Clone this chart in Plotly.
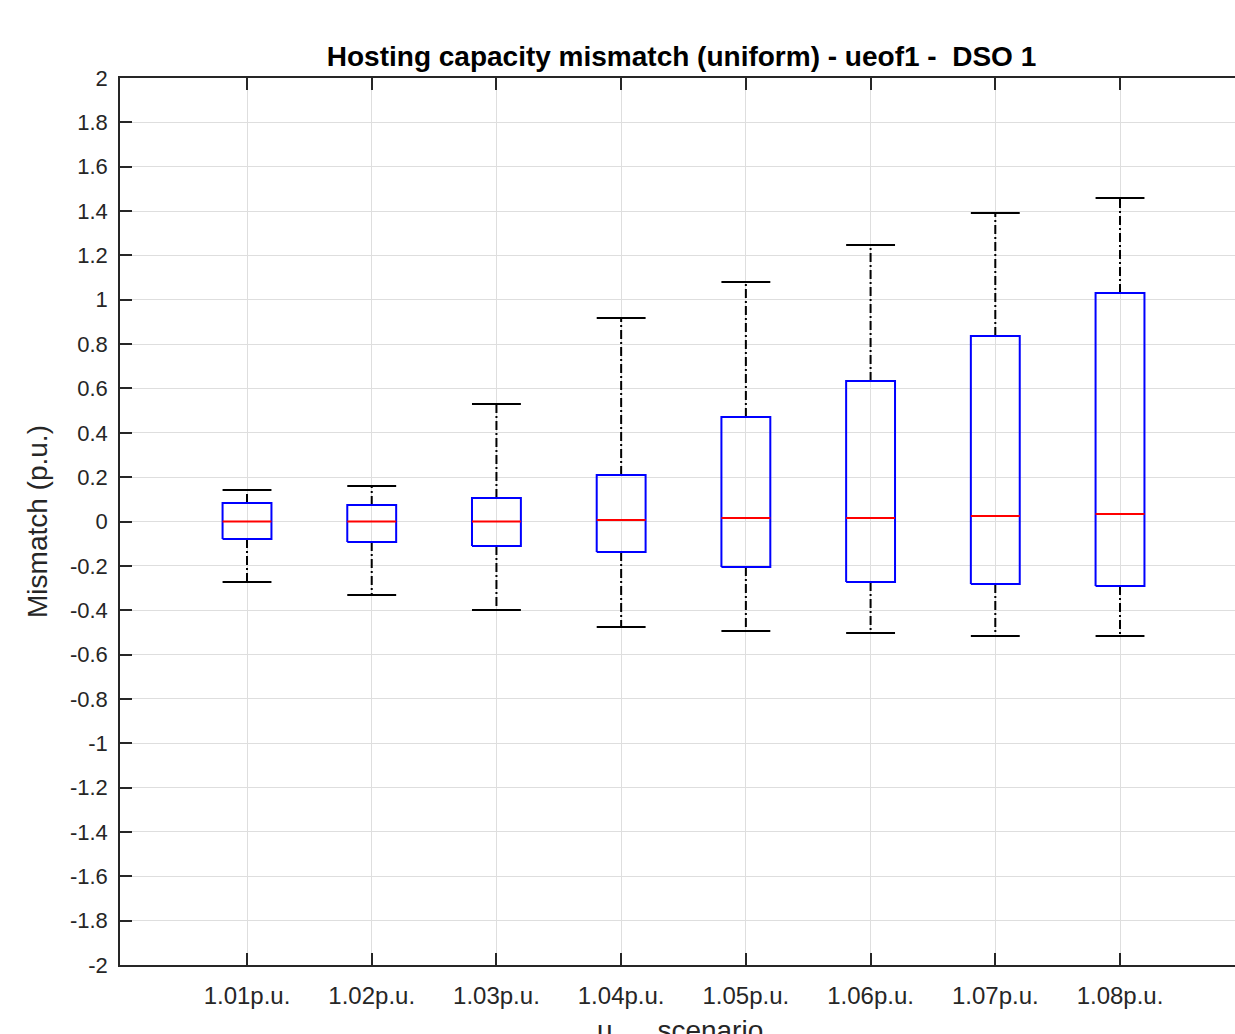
import plotly.graph_objects as go

# ---- data ----
categories = ["1.01p.u.", "1.02p.u.", "1.03p.u.", "1.04p.u.",
              "1.05p.u.", "1.06p.u.", "1.07p.u.", "1.08p.u."]
upper_whisker = [0.142, 0.160, 0.530, 0.918, 1.080, 1.247, 1.391, 1.459]
q3 = [0.083, 0.074, 0.106, 0.210, 0.471, 0.634, 0.837, 1.030]
median = [0.000, 0.000, 0.000, 0.007, 0.016, 0.016, 0.025, 0.034]
q1 = [-0.079, -0.092, -0.110, -0.138, -0.205, -0.273, -0.282, -0.291]
lower_whisker = [-0.273, -0.331, -0.399, -0.476, -0.494, -0.503, -0.516, -0.516]
y_ticks = [round(-2 + 0.2 * i, 1) for i in range(21)]

HW = 0.196  # half box width in category units
pos = list(range(1, len(categories) + 1))

bx, by, mx, my, wx, wy, cx, cy = [], [], [], [], [], [], [], []
for p, uw, a, m, b, lw in zip(pos, upper_whisker, q3, median, q1, lower_whisker):
    bx += [p - HW, p + HW, p + HW, p - HW, p - HW, None]
    by += [b, b, a, a, b, None]
    mx += [p - HW, p + HW, None]
    my += [m, m, None]
    wx += [p, p, None, p, p, None]
    wy += [a, uw, None, b, lw, None]
    cx += [p - HW, p + HW, None, p - HW, p + HW, None]
    cy += [uw, uw, None, lw, lw, None]

fig = go.Figure()
fig.add_trace(go.Scatter(x=wx, y=wy, mode="lines", hoverinfo="skip",
                         line=dict(color="black", width=2, dash="9px,3px,2px,3px")))
fig.add_trace(go.Scatter(x=cx, y=cy, mode="lines", hoverinfo="skip",
                         line=dict(color="black", width=2)))
fig.add_trace(go.Scatter(x=bx, y=by, mode="lines", hoverinfo="skip",
                         line=dict(color="#0000ff", width=2)))
fig.add_trace(go.Scatter(x=mx, y=my, mode="lines", hoverinfo="skip",
                         line=dict(color="#ff0000", width=2)))

font_family = "Liberation Sans, Arial, sans-serif"
fig.update_layout(
    width=1235, height=1034,
    margin=dict(l=120, r=0, t=78, b=69, autoexpand=False),
    paper_bgcolor="white", plot_bgcolor="white",
    showlegend=False,
    font=dict(family=font_family, color="#262626", size=23),
    title=dict(text="<b>Hosting capacity mismatch (uniform) - ueof1 -  DSO 1</b>",
               x=681.5 / 1235, xref="container", xanchor="center",
               y=1 - 56 / 1034, yref="container", yanchor="middle",
               font=dict(size=28, color="#000000", family=font_family)),
    xaxis=dict(range=[-0.0184, 8.922], tickvals=pos, ticktext=categories,
               automargin=False,
               showgrid=True, gridcolor="#dedede", gridwidth=1,
               showline=True, linecolor="#262626", linewidth=1.5, mirror="ticks",
               ticks="inside", ticklen=12, tickcolor="#262626", tickwidth=1.5,
               zeroline=False, tickfont=dict(size=24), ticklabelstandoff=8),
    yaxis=dict(range=[-2, 2], tickvals=y_ticks,
               ticktext=[("%g" % v) for v in y_ticks],
               automargin=False,
               showgrid=True, gridcolor="#dedede", gridwidth=1,
               showline=True, linecolor="#262626", linewidth=1.5, mirror=False,
               ticks="inside", ticklen=12, tickcolor="#262626", tickwidth=1.5,
               zeroline=False, tickfont=dict(size=22), ticklabelstandoff=6,
               title=dict(text="Mismatch (p.u.)", standoff=14,
                          font=dict(size=28))),
    annotations=[dict(text="u<sub>max</sub> scenario", showarrow=False,
                      xref="paper", yref="paper", x=0.5022, y=-0.0545,
                      xanchor="center", yanchor="top",
                      font=dict(size=28, color="#262626", family=font_family))],
)

fig.write_html(
    "out.html",
    config={"displayModeBar": False},
    post_script="document.body.style.margin='0';document.body.style.overflow='hidden';",
)
